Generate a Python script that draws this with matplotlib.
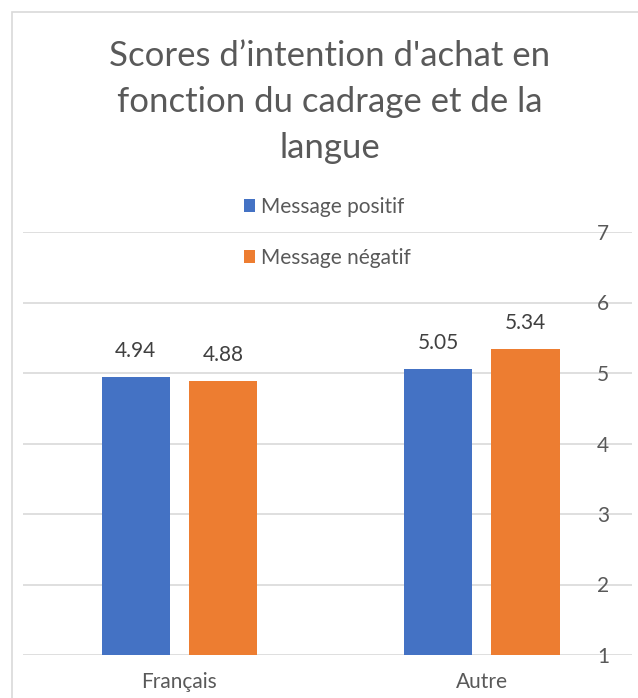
import matplotlib.pyplot as plt
from matplotlib.patches import Rectangle
import numpy as np

plt.rcParams['font.family'] = ['Lato', 'DejaVu Sans']

categories = ['Français', 'Autre']
series_names = ['Message positif', 'Message négatif']
positif = [4.94, 5.05]
negatif = [4.88, 5.34]
yticks = [1, 2, 3, 4, 5, 6, 7]

blue = '#4472C4'
orange = '#ED7D31'
grey = '#595959'
grid = '#D9D9D9'

fig = plt.figure(figsize=(6.38, 6.98), dpi=100)
# chart border like an Excel chart area
fig.patches.append(Rectangle((12 / 638, -0.05), 1.0, 1 - 12 / 698 + 0.05,
                             transform=fig.transFigure, fill=False,
                             edgecolor=grid, linewidth=1.2))

ax = fig.add_axes([23 / 638, 1 - 655 / 698, 609 / 638, (655 - 232) / 698])

x = np.arange(len(categories))
w = 0.225
off = 0.144
b1 = ax.bar(x - off, positif, w, bottom=0, color=blue, label=series_names[0], zorder=3)
b2 = ax.bar(x + off, negatif, w, bottom=0, color=orange, label=series_names[1], zorder=3)

for bars, vals in ((b1, positif), (b2, negatif)):
    for r, v in zip(bars, vals):
        ax.text(r.get_x() + r.get_width() / 2, v + 0.37, f'{v:.2f}',
                ha='center', va='center', fontsize=15, color='#404040')

ax.set_xlim(-0.517, 1.496)
ax.set_ylim(1, 7)
ax.set_yticks(yticks)
ax.yaxis.grid(True, color=grid, linewidth=1.2, zorder=0)
for s in ax.spines.values():
    s.set_visible(False)
ax.yaxis.tick_right()
ax.tick_params(axis='y', length=0, pad=-25, labelsize=15, labelcolor=grey)
ax.set_xticks(x)
ax.set_xticklabels(categories)
ax.tick_params(axis='x', length=0, pad=12, labelsize=15, labelcolor=grey)

fig.text(0.517, 1 - 102 / 698,
         "Scores d’intention d'achat en\nfonction du cadrage et de la\nlangue",
         ha='center', va='center', fontsize=25, color=grey, linespacing=1.55)

leg = ax.legend(loc='upper left', bbox_to_anchor=(225 / 638, 1 - 178 / 698),
                bbox_transform=fig.transFigure, frameon=False, fontsize=15,
                handlelength=0.53, handleheight=0.53, handletextpad=0.3,
                labelspacing=1.5, labelcolor=grey)

fig.savefig('out.png', dpi=100)
